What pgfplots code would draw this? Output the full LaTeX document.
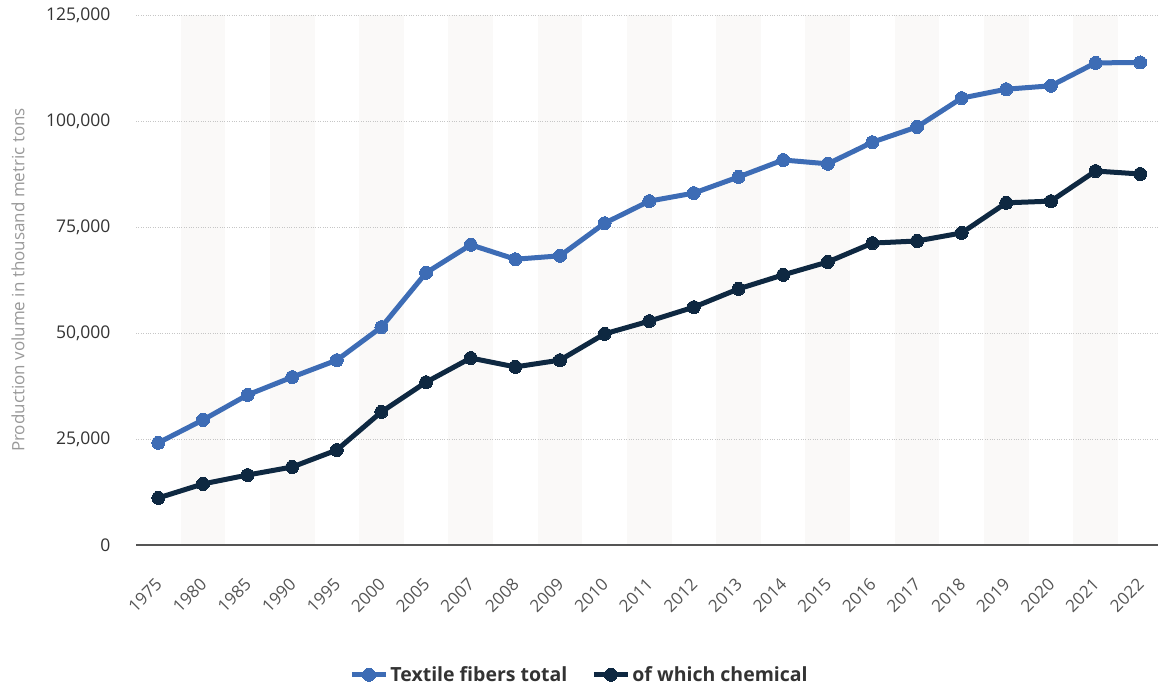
\documentclass[border=0pt]{standalone}
\usepackage{pgfplots}
\pgfplotsset{compat=1.18}
\usepackage{fontspec}
\setmainfont{Open Sans}
\IfFontExistsTF{Open Sans SemiBold}{\newfontfamily\semib{Open Sans SemiBold}}{\newfontfamily\semib{Open Sans}}
\definecolor{blueline}{HTML}{3D6CB5}
\definecolor{navy}{HTML}{0E2841}
\definecolor{band}{HTML}{FAF9F8}
\definecolor{ticktext}{HTML}{333333}
\definecolor{xtext}{HTML}{555555}
\definecolor{ylab}{HTML}{999999}
\begin{document}
\begin{tikzpicture}
\begin{axis}[
  set layers,
  scale only axis,
  width=1022bp, height=530bp,
  xmin=-0.5, xmax=22.4,
  ymin=0, ymax=125000,
  clip=false,
  axis x line*=bottom, axis y line*=left,
  y axis line style={draw=none},
  x axis line style={draw=xtext, line width=1.5bp},
  major tick length=0pt,
  xtick={0,...,22},
  xticklabels={1975,1980,1985,1990,1995,2000,2005,2007,2008,2009,2010,2011,2012,2013,2014,2015,2016,2017,2018,2019,2020,2021,2022},
  ytick={0,25000,50000,75000,100000,125000},
  yticklabels={0,{25,000},{50,000},{75,000},{100,000},{125,000}},
  scaled y ticks=false,
  xticklabel style={xshift=-4bp, yshift=-32bp, rotate=45, anchor=north east, font=\semib\fontsize{17bp}{19bp}\selectfont, text=xtext, inner sep=0pt},
  yticklabel style={font=\semib\fontsize{17.5bp}{19bp}\selectfont, text=ticktext, xshift=-22bp},
  ymajorgrids,
  grid style={draw=gray!45, dotted, line width=0.8bp},
  ylabel={Production volume in thousand metric tons},
  every axis y label/.style={at={(rel axis cs:0,0.5)}, xshift=-118bp, rotate=90, anchor=center, font=\fontsize{17bp}{19bp}\selectfont, text=ylab},
  legend columns=2,
  legend style={at={(0.434,-0.245)}, anchor=center, draw=none, fill=none,
    font=\bfseries\fontsize{19.5bp}{21bp}\selectfont, text=ticktext,
    /tikz/every even column/.append style={column sep=22bp}},
  legend image code/.code={\draw[mark repeat=2,mark phase=2,#1] plot coordinates {(0bp,0bp) (17bp,0bp) (34bp,0bp)};},
]
\begin{pgfonlayer}{axis background}
\fill[band] (axis cs:0.5,0) rectangle (axis cs:1.5,125000);
\fill[band] (axis cs:2.5,0) rectangle (axis cs:3.5,125000);
\fill[band] (axis cs:4.5,0) rectangle (axis cs:5.5,125000);
\fill[band] (axis cs:6.5,0) rectangle (axis cs:7.5,125000);
\fill[band] (axis cs:8.5,0) rectangle (axis cs:9.5,125000);
\fill[band] (axis cs:10.5,0) rectangle (axis cs:11.5,125000);
\fill[band] (axis cs:12.5,0) rectangle (axis cs:13.5,125000);
\fill[band] (axis cs:14.5,0) rectangle (axis cs:15.5,125000);
\fill[band] (axis cs:16.5,0) rectangle (axis cs:17.5,125000);
\fill[band] (axis cs:18.5,0) rectangle (axis cs:19.5,125000);
\fill[band] (axis cs:20.5,0) rectangle (axis cs:21.5,125000);
\end{pgfonlayer}
\addplot[blueline, line width=5bp, mark=*, mark size=6.5bp, mark options={solid, line width=0pt, fill=blueline}] coordinates {
(0,24100) (1,29500) (2,35400) (3,39600) (4,43600) (5,51400) (6,64200) (7,70800) (8,67400) (9,68200) (10,75900) (11,81100) (12,83000) (13,86800) (14,90800) (15,89900) (16,95000) (17,98600) (18,105400) (19,107500) (20,108300) (21,113700) (22,113800)
};
\addlegendentry{Textile fibers total}
\addplot[navy, line width=5bp, mark=*, mark size=6.5bp, mark options={solid, line width=0pt, fill=navy}] coordinates {
(0,11100) (1,14400) (2,16500) (3,18400) (4,22400) (5,31400) (6,38400) (7,44100) (8,42000) (9,43600) (10,49800) (11,52800) (12,56100) (13,60400) (14,63700) (15,66750) (16,71200) (17,71700) (18,73600) (19,80700) (20,81100) (21,88200) (22,87500)
};
\addlegendentry{of which chemical}
\end{axis}
\pgfresetboundingbox
\useasboundingbox (-136bp,-144bp) rectangle (1022bp,545bp);
\end{tikzpicture}
\end{document}
